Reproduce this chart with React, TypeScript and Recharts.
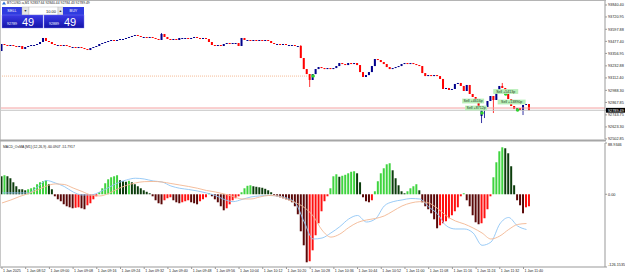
import React from "react";
import { ComposedChart, Bar, Line, XAxis, YAxis, Cell, ReferenceLine, ReferenceDot } from "recharts";

// M1 candles, 08:44 .. 11:42
const closes = [
  93451, 93441, 93431, 93441, 93431, 93421, 93431, 93401, 93421, 93431,
  93441, 93441, 93451, 93471, 93511, 93481, 93471, 93451, 93441, 93441,
  93431, 93441, 93431, 93421, 93421, 93411, 93421, 93411, 93401, 93391,
  93411, 93421, 93431, 93451, 93461, 93471, 93481, 93491, 93481, 93491,
  93501, 93501, 93511, 93521, 93531, 93541, 93531, 93521, 93521, 93511,
  93521, 93511, 93501, 93491, 93551, 93521, 93501, 93491, 93501, 93491,
  93511, 93511, 93511, 93501, 93511, 93521, 93511, 93501, 93511, 93501,
  93471, 93441, 93431, 93441, 93431, 93451, 93461, 93451, 93461, 93461,
  93431, 93511, 93491, 93491, 93481, 93491, 93481, 93491, 93481, 93491,
  93481, 93461, 93451, 93451, 93441, 93451, 93441, 93441, 93441, 93431,
  93431, 93311, 93201, 93151, 93092, 93151, 93201, 93221, 93211, 93201,
  93211, 93201, 93211, 93231, 93261, 93251, 93241, 93261, 93251, 93261,
  93241, 93171, 93122, 93141, 93171, 93231, 93301, 93291, 93271, 93251,
  93221, 93201, 93211, 93221, 93231, 93251, 93261, 93251, 93261, 93251,
  93241, 93231, 93161, 93131, 93141, 93131, 93141, 93131, 93102, 93002,
  93012, 92992, 93002, 93052, 93062, 93032, 92982, 93042, 92952, 92922,
  92872, 92832, 92792, 92822, 92882, 92932, 92892, 92972, 93032, 93012,
  92952, 92902, 92832, 92802, 92812, 92792, 92842, 92852, 92789.49,
];
const firstOpen = 93381;
const gapOpens: Record<number, number> = { 162: 92732 };
const wickHighs: Record<number, number> = { 54: 93561, 101: 93441, 166: 92922, 169: 93062 };
const wickLows: Record<number, number> = { 104: 93022, 162: 92662, 163: 92712, 166: 92762, 176: 92742 };

// OsMA histogram, one value per bar
const osma = [
  31.2, 33.0, 31.2, 27.8, 20.8, 13.9, 8.7, 8.7, 6.9, 8.7,
  10.4, 12.1, 17.4, 20.8, 22.6, 24.3, 17.4, 8.7, -3.5, -8.7,
  -12.1, -17.4, -20.8, -22.6, -24.3, -23.4, -22.6, -24.3, -26.0, -19.1,
  -15.6, -8.7, -3.5, 3.5, 10.4, 19.1, 26.0, 29.5, 31.2, 33.0,
  24.3, 22.6, 21.7, 23.4, 20.8, 17.4, 13.9, 10.4, 6.9, 4.3,
  1.7, -3.5, -10.4, -15.6, -17.4, -10.4, -6.9, -5.2, -10.4, -13.9,
  -15.6, -13.9, -12.1, -10.4, -13.9, -15.6, -17.4, -12.1, -8.7, -5.2,
  1.7, -3.5, -8.7, -13.9, -20.8, -27.8, -24.3, -17.4, -10.4, -6.9,
  -3.5, 3.5, 10.4, 14.7, 15.6, 13.9, 13.0, 12.1, 11.3, 9.5,
  6.9, 3.5, -1.7, -3.5, -5.2, -6.9, -8.7, -10.4, -13.9, -20.8,
  -34.7, -64.2, -88.5, -118.0, -116.2, -97.2, -71.1, -50.3, -29.5, -12.1,
  -3.5, 10.4, 31.2, 34.7, 30.4, 32.1, 33.8, 36.4, 39.0, 39.9,
  36.4, 20.8, -5.2, -12.1, -13.9, -10.4, 5.2, 22.6, 36.4, 45.1,
  52.0, 53.8, 41.6, 27.8, 15.6, 5.2, 1.7, 5.2, 10.4, 13.9,
  17.4, 6.9, -13.9, -20.8, -26.0, -33.0, -43.4, -59.0, -53.8, -50.3,
  -46.8, -41.6, -36.4, -29.5, -22.6, -3.5, 1.7, -10.4, -20.8, -36.4,
  -48.6, -52.0, -50.3, -41.6, -26.0, -3.5, 29.5, 55.5, 74.6, 81.5,
  79.8, 71.1, 48.6, 15.6, -10.4, -19.1, -33.0, -22.6, -20.8,
];

// MACD main and signal, read every 3rd bar (0, 3, 6 ... 177)
const macdMain = [
  2.3, 2.3, 2.3, 2.3, 12.7, 23.9, 19.6, 13.5, 4.0, -1.2,
  -1.2, 4.0, 11.8, 19.6, 24.8, 27.8, 26.5, 23.1, 21.3, 14.4,
  10.4, 8.3, 5.7, 2.3, -2.1, -9.0, -12.8, -9.0, -4.7, -2.9,
  -2.1, -2.9, -6.4, -15.1, -48.1, -77.6, -75.9, -67.1, -56.2, -42.9,
  -36.8, -48.1, -42.9, -20.3, -12.8, -9.9, -7.3, -8.2, -22.0, -34.2,
  -55.0, -60.2, -60.2, -67.1, -88.5, -83.0, -51.5, -40.3, -55.0, -61.1,
];
const macdSignal = [
  -15.1, -9.9, -3.8, 1.4, 7.5, 14.4, 17.9, 17.0, 10.9, 4.9,
  -1.2, -2.9, 1.4, 9.2, 15.3, 19.6, 21.9, 22.2, 21.3, 18.7,
  16.1, 13.5, 10.4, 6.6, 4.0, 0.5, -3.8, -8.2, -8.2, -4.7,
  -2.1, -2.9, -8.2, -14.2, -22.9, -37.6, -62.1, -74.3, -69.1, -57.8,
  -48.9, -44.6, -42.0, -37.6, -29.0, -20.3, -15.1, -12.8, -15.1, -24.6,
  -37.6, -46.3, -51.5, -58.5, -67.1, -77.6, -72.4, -61.1, -52.4, -50.7,
];

const timeLabels = [
  "1 Jan 2025", "1 Jan 08:52", "1 Jan 09:00", "1 Jan 09:08", "1 Jan 09:16", "1 Jan 09:24",
  "1 Jan 09:32", "1 Jan 09:40", "1 Jan 09:48", "1 Jan 09:56", "1 Jan 10:04", "1 Jan 10:12",
  "1 Jan 10:20", "1 Jan 10:28", "1 Jan 10:36", "1 Jan 10:44", "1 Jan 10:52", "1 Jan 11:00",
  "1 Jan 11:08", "1 Jan 11:16", "1 Jan 11:24", "1 Jan 11:32", "1 Jan 11:40",
];
const priceTicks = [
  93840.4, 93720.95, 93597.88, 93477.4, 93356.95, 93232.88, 93112.4,
  92988.3, 92867.85, 92789.49, 92743.75, 92623.3, 92502.85,
];
const macdTicks = [88.9346, 0, -126.1535];
const lastPrice = 92789.49;
const askLine = 92812;
const entryPrice = 93131;

const tradeDots = [
  { i: 105, price: 93131 },
  { i: 161, price: 92877 },
  { i: 162, price: 92762 },
  { i: 170, price: 92952 },
  { i: 174, price: 92792 },
];
const tradeLabels = [
  { i: 159, price: 92882, text: "Sell +4616p", w: 22 },
  { i: 160, price: 92812, text: "Sell +8712p", w: 22 },
  { i: 170, price: 92977, text: "Sell +5413p", w: 25 },
  { i: 172, price: 92872, text: "Sell +13890p", w: 28 },
];

const SLOTS = 204;
const FONT = "Liberation Sans, Arial, sans-serif";

const data = Array.from({ length: SLOTS }, (_, i) => {
  if (i >= closes.length) return { i, range: null, osma: null, macd: null, signal: null };
  const open = i === 0 ? firstOpen : gapOpens[i] ?? closes[i - 1];
  const close = closes[i];
  const high = Math.max(open, close, wickHighs[i] ?? -Infinity);
  const low = Math.min(open, close, wickLows[i] ?? Infinity);
  return {
    i,
    open,
    close,
    high,
    low,
    range: [low, high],
    osma: osma[i],
    macd: i % 3 === 0 ? macdMain[i / 3] : null,
    signal: i % 3 === 0 ? macdSignal[i / 3] : null,
  };
});

function histColor(i: number) {
  const v = osma[i];
  const prev = i > 0 ? osma[i - 1] : v;
  if (v >= 0) return v > prev ? "#3fd43f" : "#0c3d0c";
  return v < prev ? "#5a0808" : "#ff1010";
}

function Candle(props: any) {
  const { x, y, width, height, payload } = props;
  if (!payload || payload.close == null) return <g />;
  const { open, close, high, low } = payload;
  const top = Math.min(y, y + height);
  const h = Math.abs(height);
  const py = (p: number) => (high === low ? top : top + ((high - p) / (high - low)) * h);
  const color = close > open ? "#00008c" : close < open ? "#ff0000" : "#00008c";
  const cx = x + width / 2;
  const bt = Math.min(py(open), py(close));
  const bh = Math.max(1, Math.abs(py(open) - py(close)));
  return (
    <g>
      <line x1={cx} x2={cx} y1={top} y2={top + h} stroke={color} strokeWidth={0.8} />
      <rect x={x} y={bt} width={width} height={bh} fill={color} />
    </g>
  );
}

function PriceTick(props: any) {
  const { x, y, payload } = props;
  const v = payload.value as number;
  const cur = v === lastPrice;
  return (
    <g>
      {cur && <rect x={x - 2} y={y - 2.4} width={20} height={4.8} fill="#000" />}
      <text x={x} y={y + 1.3} fontSize={3.8} fill={cur ? "#fff" : "#222"} fontFamily={FONT}>
        {v.toFixed(2)}
      </text>
    </g>
  );
}

function MacdTick(props: any) {
  const { x, y, payload } = props;
  const v = payload.value as number;
  const label = v === 0 ? "0.00" : v.toFixed(4);
  const dy = v > 50 ? 2.5 : v < -50 ? -1.5 : 1.3;
  return (
    <text x={x} y={y + dy} fontSize={3.8} fill="#222" fontFamily={FONT}>
      {label}
    </text>
  );
}

function TimeTick(props: any) {
  const { x, y, payload } = props;
  const idx = (payload.value as number) / 8;
  return (
    <text x={x + 1} y={y + 3} fontSize={3.6} fill="#222" fontFamily={FONT}>
      {timeLabels[idx]}
    </text>
  );
}

function TradeLabel(props: any) {
  const { cx, cy, text, w } = props;
  return (
    <g>
      <rect x={cx - w / 2} y={cy - 2.4} width={w} height={4.8} fill="#b9efb9" />
      <text x={cx} y={cy + 1.3} fontSize={3.6} textAnchor="middle" fill="#1d3b1d" fontFamily={FONT}>
        {text}
      </text>
    </g>
  );
}

function TradePanel() {
  return (
    <svg width={625} height={276} style={{ position: "absolute", left: 0, top: 0, pointerEvents: "none" }}>
      <defs>
        <linearGradient id="pbox" x1="0" y1="0" x2="0" y2="1">
          <stop offset="0" stopColor="#3a3ae6" />
          <stop offset="1" stopColor="#1414a8" />
        </linearGradient>
      </defs>
      <line x1={0} x2={606} y1={0.5} y2={0.5} stroke="#b4b4b4" />
      <line x1={0.5} x2={0.5} y1={0} y2={268} stroke="#c8c8c8" />
      <rect x={0} y={139.5} width={606} height={2} fill="#a6a6a6" />
      <path d="M2 4.5 L4 1.5 L6 4.5 Z" fill="#2a6fd6" />
      <text x={7} y={4.3} fontSize={3.4} fill="#222" fontFamily={FONT}>
        BTCUSD.a,M1 92837.64 92840.44 92784.43 92789.49
      </text>
      <rect x={2} y={7} width={20} height={8} fill="#2f3be0" />
      <text x={12} y={12.3} fontSize={3.8} textAnchor="middle" fill="#fff" fontFamily={FONT}>SELL</text>
      <rect x={22} y={7} width={7} height={8} fill="#e4e4e4" stroke="#b0b0b0" strokeWidth={0.4} />
      <text x={25.5} y={12.3} fontSize={3.4} textAnchor="middle" fill="#333" fontFamily={FONT}>▼</text>
      <rect x={29} y={7} width={29} height={8} fill="#fff" stroke="#b0b0b0" strokeWidth={0.4} />
      <text x={56} y={12.5} fontSize={4} textAnchor="end" fill="#111" fontFamily={FONT}>10.00</text>
      <rect x={58} y={7} width={5} height={8} fill="#e4e4e4" stroke="#b0b0b0" strokeWidth={0.4} />
      <text x={60.5} y={12.3} fontSize={3.4} textAnchor="middle" fill="#333" fontFamily={FONT}>▲</text>
      <rect x={63} y={7} width={21} height={8} fill="#2f3be0" />
      <text x={73.5} y={12.3} fontSize={3.8} textAnchor="middle" fill="#fff" fontFamily={FONT}>BUY</text>
      <rect x={2} y={15} width={41} height={13} fill="url(#pbox)" stroke="#7a7af0" strokeWidth={0.4} />
      <text x={7} y={24.5} fontSize={3.6} fill="#fff" fontFamily={FONT}>92789</text>
      <text x={22} y={26} fontSize={11} fill="#fff" fontFamily={FONT}>49</text>
      <rect x={44} y={15} width={40} height={13} fill="url(#pbox)" stroke="#7a7af0" strokeWidth={0.4} />
      <text x={49} y={24.5} fontSize={3.6} fill="#fff" fontFamily={FONT}>92889</text>
      <text x={64} y={26} fontSize={11} fill="#fff" fontFamily={FONT}>49</text>
      <text x={3} y={147.5} fontSize={3.4} fill="#222" fontFamily={FONT}>
        MACD_OsMA [M1] (12,26,9) -60.0907 -51.7917
      </text>
    </svg>
  );
}

export default function App() {
  return (
    <div style={{ position: "absolute", left: 0, top: 0, width: 625, height: 276, background: "#fff", overflow: "hidden" }}>
      <div style={{ position: "absolute", left: 0, top: 0 }}>
        <ComposedChart width={625} height={140} data={data} margin={{ top: 1, right: 0, bottom: 1, left: 0.5 }}>
          <XAxis dataKey="i" hide />
          <YAxis
            orientation="right"
            width={20}
            type="number"
            domain={[92502.8, 93880.3]}
            allowDataOverflow
            ticks={priceTicks}
            interval={0}
            tick={<PriceTick />}
            tickSize={2}
            tickMargin={1}
            axisLine={{ stroke: "#999" }}
            tickLine={{ stroke: "#999" }}
          />
          <ReferenceLine y={askLine} stroke="#f4a0a0" strokeWidth={1} />
          <ReferenceLine y={lastPrice} stroke="#c4c4c4" strokeWidth={1} />
          <ReferenceLine
            segment={[{ x: 0, y: entryPrice }, { x: 105, y: entryPrice }]}
            stroke="#f2a878"
            strokeDasharray="1 1"
            strokeWidth={0.8}
          />
          <Bar dataKey="range" barSize={2} shape={<Candle />} isAnimationActive={false} />
          {tradeDots.map((d, k) => (
            <ReferenceDot key={k} x={d.i} y={d.price} r={1.8} fill="#2fd12f" stroke="none" />
          ))}
          {tradeLabels.map((t, k) => (
            <ReferenceDot
              key={"l" + k}
              x={t.i}
              y={t.price}
              r={0}
              shape={(p: any) => <TradeLabel cx={p.cx} cy={p.cy} text={t.text} w={t.w} />}
            />
          ))}
        </ComposedChart>
      </div>
      <div style={{ position: "absolute", left: 0, top: 141 }}>
        <ComposedChart width={625} height={135} data={data} margin={{ top: 2, right: 0, bottom: 0, left: 0.5 }}>
          <XAxis
            dataKey="i"
            height={9}
            ticks={timeLabels.map((_, k) => k * 8)}
            interval={0}
            tick={<TimeTick />}
            tickSize={2}
            tickMargin={0}
            axisLine={{ stroke: "#999" }}
            tickLine={{ stroke: "#999" }}
          />
          <YAxis
            orientation="right"
            width={20}
            type="number"
            domain={[-126.1535, 88.9346]}
            allowDataOverflow
            ticks={macdTicks}
            interval={0}
            tick={<MacdTick />}
            tickSize={2}
            tickMargin={1}
            axisLine={{ stroke: "#999" }}
            tickLine={{ stroke: "#999" }}
          />
          <Bar dataKey="osma" barSize={2} isAnimationActive={false}>
            {data.map((d, k) => (
              <Cell key={k} fill={d.osma == null ? "transparent" : histColor(k)} />
            ))}
          </Bar>
          <Line dataKey="macd" type="monotone" stroke="#8ec5f5" strokeWidth={0.9} dot={false} connectNulls isAnimationActive={false} />
          <Line dataKey="signal" type="monotone" stroke="#f3b792" strokeWidth={0.9} dot={false} connectNulls isAnimationActive={false} />
        </ComposedChart>
      </div>
      <TradePanel />
    </div>
  );
}
